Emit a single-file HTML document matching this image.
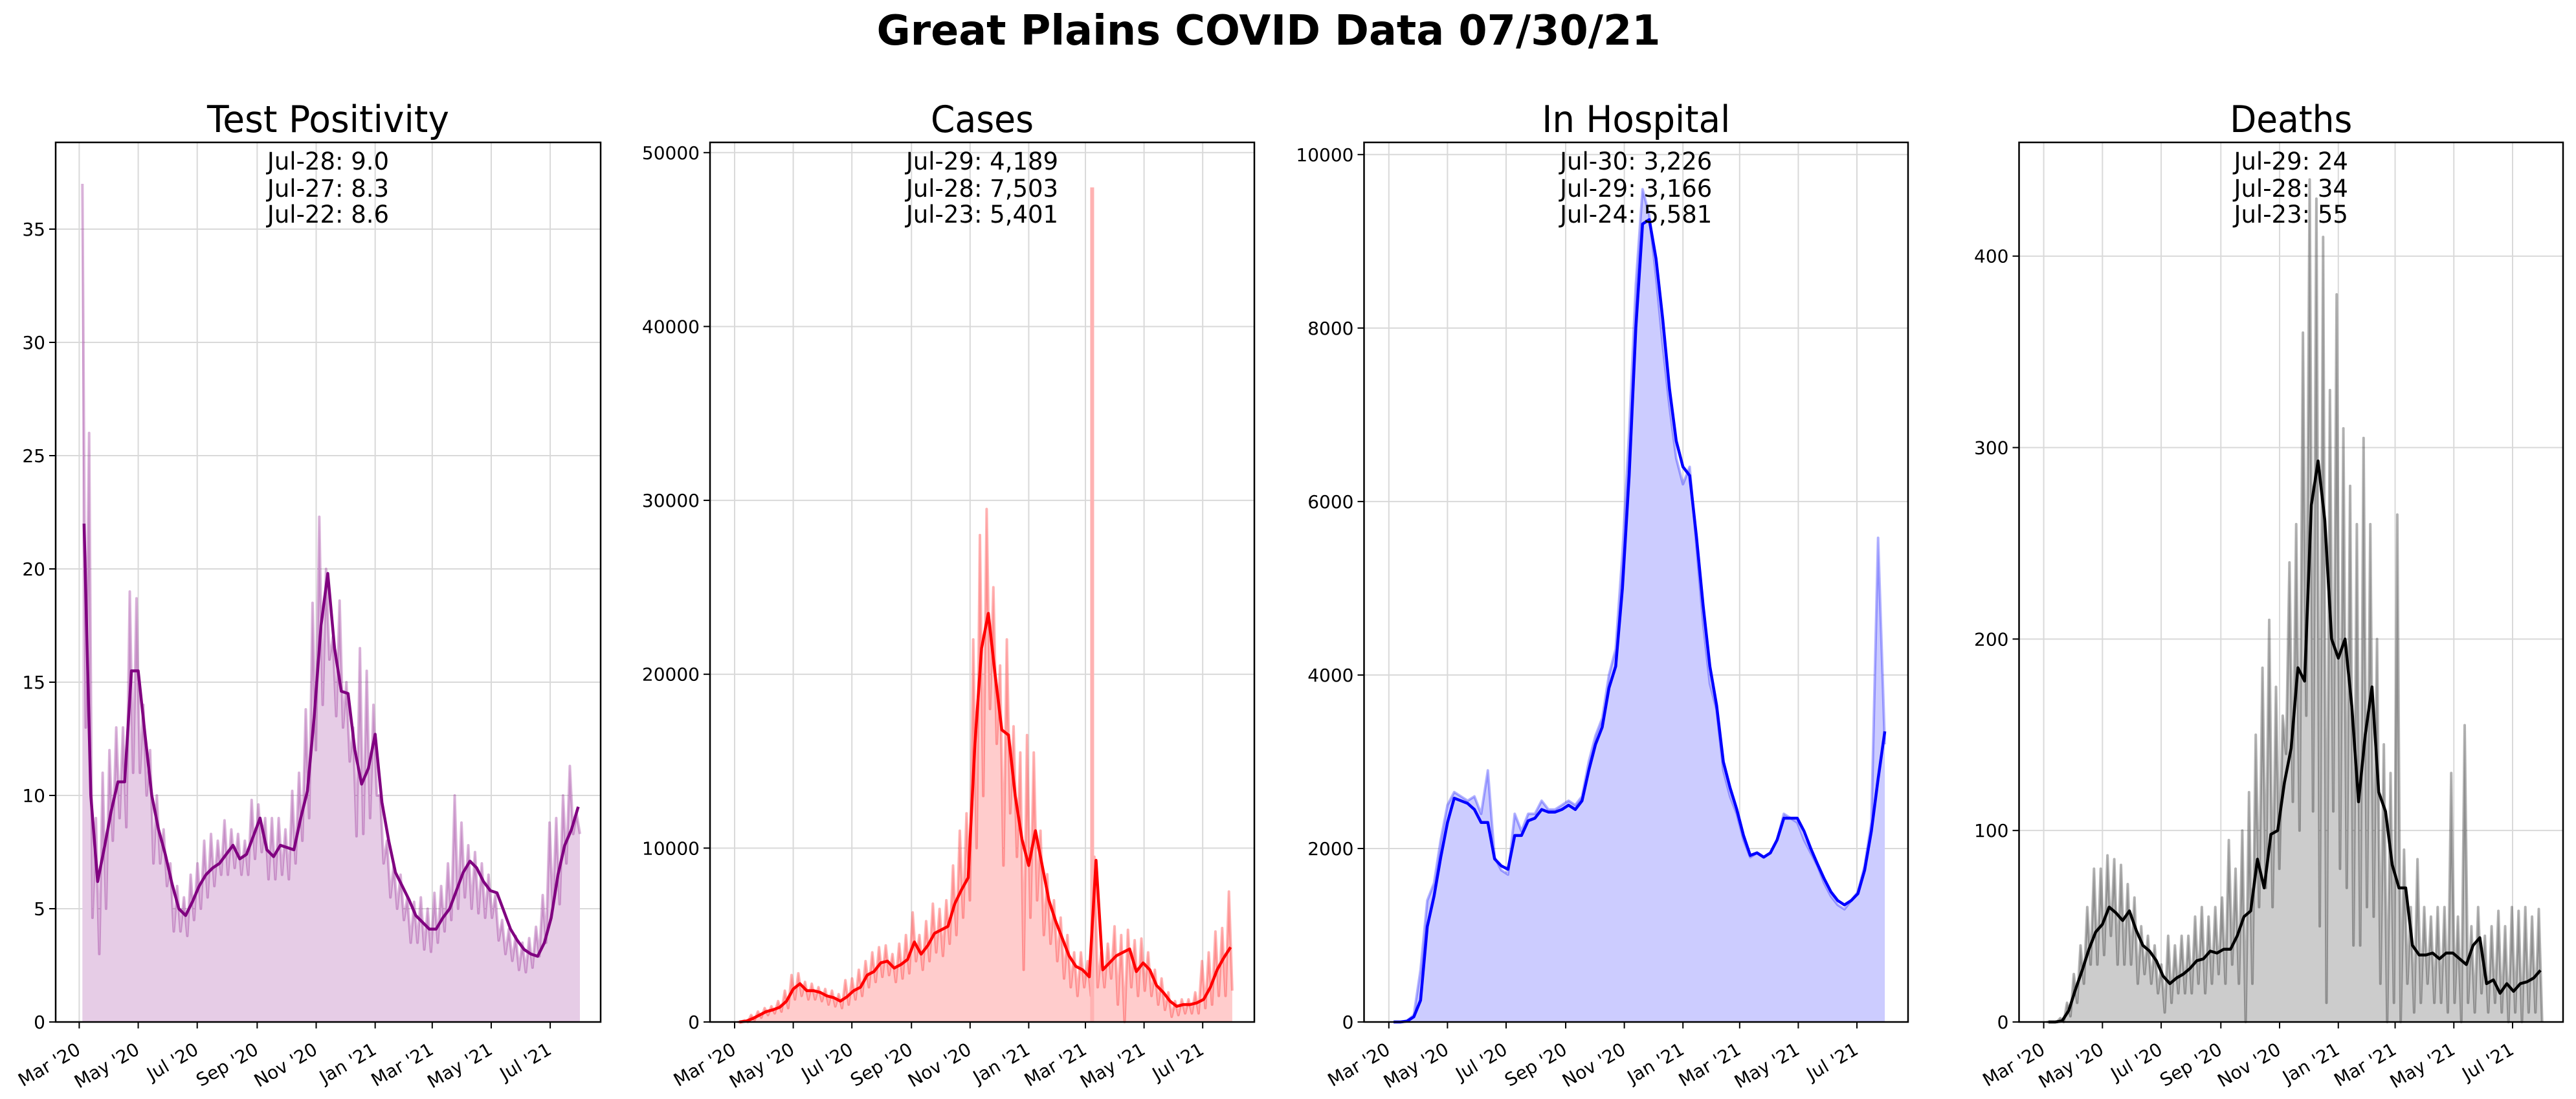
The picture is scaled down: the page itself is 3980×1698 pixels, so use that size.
<!DOCTYPE html>
<html><head><meta charset="utf-8"><title>Great Plains COVID Data 07/30/21</title>
<style>
html,body{margin:0;padding:0;background:#fff;}
svg{display:block;font-family:"DejaVu Sans","Liberation Sans",sans-serif;}
</style></head>
<body>
<svg id="chart" width="3980" height="1698" viewBox="0 0 3980 1698" xmlns="http://www.w3.org/2000/svg">
<rect width="3980" height="1698" fill="#fff"/>
<text x="1960" y="69" text-anchor="middle" font-size="64" font-weight="bold" textLength="1211" lengthAdjust="spacingAndGlyphs">Great Plains COVID Data 07/30/21</text>
</svg>
<script>
// ---- data (weekly samples, day offset from Mar 1 2020 = firstDay + i*stepDays) ----
const firstDay = 5;
const stepDays = 7;
const monthLabels = ["Mar '20","May '20","Jul '20","Sep '20","Nov '20","Jan '21","Mar '21","May '21","Jul '21"];
const monthDays = [0,61,122,184,245,306,365,426,487];

const tpSmooth = [22,10,6.2,7.7,9.3,10.6,10.6,15.5,15.5,12.7,10,8.5,7.4,6.1,5,4.7,5.3,6,6.5,6.8,7,7.4,7.8,7.2,7.4,8.2,9,7.6,7.3,7.8,7.7,7.6,9,10.2,13.5,17.5,19.8,16.5,14.6,14.5,12,10.5,11.2,12.7,9.7,8,6.6,6,5.4,4.7,4.4,4.1,4.1,4.6,5,5.8,6.6,7.1,6.8,6.2,5.8,5.7,4.9,4.1,3.6,3.2,3,2.9,3.5,4.6,6.5,7.8,8.5,9.5];
const tpHi = [37,26,9,11,12,13,13,19,18.7,14,12,10,8.5,7,6,5.5,6.5,7,8,8.3,8,8.9,8.5,8.3,8,9.8,9.6,9,9,9,8.5,10.2,11,13.8,18.5,22.3,20,17,18.6,15,13,16.5,15.5,14,10,8,7,6.5,5.5,5.3,5.5,5,5.7,6,7,10,8.8,7.8,7.5,7,6.5,5.6,4.5,4.1,3.8,3.5,3.7,4.2,5.6,8.8,9,10,11.3,9.2];
const tpLo = [13,4.6,3,5,8,9,8.6,11,11,10,7,7,6,4,4,3.8,4.5,5,5.5,6,6.5,6.5,6.8,6.5,6.5,7.2,7.5,6.3,6.3,6.5,6.3,7,8,9,12,14,16,13.5,13,11.5,8.2,8.3,9,10,7,5.5,5,4.5,3.5,3.5,3.2,3.1,3.5,4,4.5,5,5.5,5,4.8,4.6,4.6,3.6,3,2.7,2.3,2.2,2.4,2.9,3.5,5,5.2,7,8.3,8.3];
const tpTicks = [0,5,10,15,20,25,30,35];
const tpNotes = ["Jul-28: 9.0","Jul-27: 8.3","Jul-22: 8.6"];

const casesSmooth = [0,50,200,400,600,700,850,1200,1900,2200,1800,1800,1700,1500,1400,1200,1450,1800,2000,2700,2900,3400,3500,3100,3300,3600,4600,3900,4400,5100,5300,5500,6800,7600,8300,16000,21500,23500,20000,16800,16500,13000,10500,9000,11000,9000,7000,5800,4800,3800,3200,3000,2600,9300,3000,3400,3800,4000,4200,2900,3400,3000,2100,1700,1200,900,1000,1000,1100,1300,2000,3000,3700,4300];
const casesHi = [0,100,400,600,800,900,1200,1800,2700,2800,2300,2200,2000,1900,1800,1600,2400,2500,3000,3500,4000,4300,4400,3900,4500,5000,6300,5000,5800,6800,6500,7000,9000,11000,12000,22000,28000,29500,25000,20500,22000,17000,15500,16500,15500,11000,8500,7000,6000,5000,4000,4000,3500,9500,4000,4500,5500,5000,5300,4700,4800,4000,3000,2500,1700,1200,1300,1300,1700,3500,4000,5200,5400,7500];
const casesLo = [0,0,100,250,400,500,600,800,1300,1500,1300,1300,1200,1000,900,800,1000,1300,1500,2000,2300,2600,2700,2300,2500,2800,3500,3000,3500,4000,3800,4500,5000,6000,7000,10000,13000,18000,16000,9000,12000,9500,3000,6000,7000,5000,4500,3500,2500,2000,1500,2000,1500,2000,2000,2500,1000,0,2000,1500,1800,1500,1000,700,300,400,500,500,500,800,1000,1500,1500,1800];
const casesSpikeDays = [372];
const casesSpikeVals = [48000];
const casesTicks = [0,10000,20000,30000,40000,50000];
const casesNotes = ["Jul-29: 4,189","Jul-28: 7,503","Jul-23: 5,401"];

const hospSmooth = [0,0,10,60,250,1100,1450,1900,2300,2580,2550,2520,2450,2300,2300,1880,1800,1760,2150,2150,2320,2350,2450,2420,2420,2450,2500,2450,2550,2900,3200,3400,3850,4100,5000,6300,8000,9200,9250,8800,8100,7300,6700,6400,6300,5600,4800,4100,3650,3000,2700,2450,2150,1920,1950,1900,1950,2100,2350,2350,2350,2200,2000,1820,1650,1500,1400,1350,1400,1480,1750,2200,2800,3350];
const hospRaw = [0,0,15,80,600,1400,1600,2100,2500,2650,2600,2550,2600,2400,2900,1900,1750,1700,2400,2200,2400,2400,2550,2450,2450,2500,2550,2500,2600,3000,3300,3500,4000,4300,5400,6800,8500,9600,9300,8600,7800,7100,6500,6200,6400,5500,4600,3900,3600,2900,2600,2400,2100,1900,1950,1900,1950,2100,2400,2350,2300,2100,1950,1800,1600,1450,1350,1300,1400,1500,1800,2300,5581,3200];
const hospTicks = [0,2000,4000,6000,8000,10000];
const hospNotes = ["Jul-30: 3,226","Jul-29: 3,166","Jul-24: 5,581"];

const deathsSmooth = [0,0,0.5,6,17,27,38,47,51,60,57,53,58,48,40,37,32,24,20,23,25,28,32,33,37,36,38,38,45,55,58,85,70,98,100,125,143,185,178,270,293,262,200,190,200,165,115,150,175,120,110,82,70,70,40,35,35,36,33,36,36,33,30,40,44,20,22,15,20,16,20,21,23,27];
const deathsHi = [0,0,2,10,25,40,60,80,80,87,85,82,72,65,50,45,40,30,45,40,45,45,55,60,55,60,65,95,80,100,120,150,185,210,175,160,240,260,360,440,430,410,330,380,310,280,260,305,260,200,145,130,265,90,60,85,60,55,60,60,130,55,155,50,60,45,50,58,50,60,58,60,55,59];
const deathsLo = [0,0,0,3,10,20,30,30,35,45,30,30,30,20,25,20,15,5,10,15,15,15,20,15,20,25,20,30,20,0,20,60,70,60,80,140,115,100,160,110,50,10,110,80,70,40,40,60,55,20,0,10,0,20,5,10,20,10,10,5,10,0,10,5,15,5,10,5,0,5,0,5,5,0];
const deathsTicks = [0,100,200,300,400];
const deathsNotes = ["Jul-29: 24","Jul-28: 34","Jul-23: 55"];

// ---- drawing ----
const NS = "http://www.w3.org/2000/svg";
const svg = document.getElementById("chart");
function mk(tag, attrs, parent){
  const e = document.createElementNS(NS, tag);
  for (const k in attrs) e.setAttribute(k, attrs[k]);
  (parent || svg).appendChild(e);
  return e;
}
const TOP = 220, BOTTOM = 1579;
const panels = [
  {key:"test-positivity", title:"Test Positivity", tw:374, left:86, right:928, mar:122.4, jul:850.1, topVal:35, topPx:354,
   smooth:tpSmooth, hi:tpHi, lo:tpLo, ticks:tpTicks, notes:tpNotes, line:"#800080", fill:"rgb(230,204,230)", raw:"rgba(128,0,128,0.3)"},
  {key:"cases", title:"Cases", tw:159, left:1097, right:1938, mar:1135, jul:1858.2, topVal:50000, topPx:235.8,
   smooth:casesSmooth, hi:casesHi, lo:casesLo, ticks:casesTicks, notes:casesNotes, spikeDays:casesSpikeDays, spikeVals:casesSpikeVals,
   line:"#ff0000", fill:"rgb(255,204,204)", raw:"rgba(255,0,0,0.3)"},
  {key:"in-hospital", title:"In Hospital", tw:291, left:2107.5, right:2948, mar:2145.8, jul:2869, topVal:10000, topPx:238.8,
   smooth:hospSmooth, hi:hospRaw, lo:hospRaw, ticks:hospTicks, notes:hospNotes, line:"#0000ff", fill:"rgb(204,204,255)", raw:"rgba(0,0,255,0.3)"},
  {key:"deaths", title:"Deaths", tw:189, left:3119.5, right:3960, mar:3157.6, jul:3882, topVal:400, topPx:395.7,
   smooth:deathsSmooth, hi:deathsHi, lo:deathsLo, ticks:deathsTicks, notes:deathsNotes, line:"#000000", fill:"rgb(204,204,204)", raw:"rgba(0,0,0,0.3)"}
];

panels.forEach(p => {
  const g = mk("g", {});
  
  
  const xs = d => p.mar + (d - 0) * (p.jul - p.mar) / 487;
  const ys = v => BOTTOM - v * (BOTTOM - p.topPx) / p.topVal;
  const dayOf = i => firstDay + i * stepDays;

  // grid
  monthDays.forEach(d => {
    const l = mk("line", {x1:xs(d), x2:xs(d), y1:TOP, y2:BOTTOM, stroke:"#d9d9d9", "stroke-width":2}, g);
    
    
  });
  p.ticks.forEach(v => {
    const l = mk("line", {x1:p.left, x2:p.right, y1:ys(v), y2:ys(v), stroke:"#d9d9d9", "stroke-width":2}, g);
    
    
  });

  // raw zigzag points
  const n = Math.min(p.hi.length, p.lo.length);
  let pts = [];
  for (let i = 0; i < n; i++) {
    const d = dayOf(i);
    if (p.hi === p.lo) { pts.push([xs(d), ys(p.hi[i])]); }
    else { pts.push([xs(d - 1.75), ys(p.hi[i])]); pts.push([xs(d + 1.75), ys(p.lo[i])]); }
  }
  const lineStr = pts.map(q => q[0].toFixed(1) + "," + q[1].toFixed(1)).join(" ");
  const area = mk("polygon", {points: pts[0][0].toFixed(1)+","+BOTTOM+" "+lineStr+" "+pts[pts.length-1][0].toFixed(1)+","+BOTTOM, fill:p.fill}, g);
  
  
  const rawLine = mk("polyline", {points: lineStr, fill:"none", stroke:p.raw, "stroke-width":4, "stroke-linejoin":"round"}, g);
  
  
  if (p.spikeDays) {
    p.spikeDays.forEach((d, k) => {
      const s = mk("rect", {x:xs(d)-3, y:ys(p.spikeVals[k]), width:6, height:BOTTOM-ys(p.spikeVals[k]), fill:"rgb(255,178,178)"}, g);
      
      
    });
  }

  // smoothed line
  const sp = p.smooth.map((v, i) => xs(dayOf(i)).toFixed(1) + "," + ys(v).toFixed(1)).join(" ");
  const sl = mk("polyline", {points: sp, fill:"none", stroke:p.line, "stroke-width":4.5, "stroke-linejoin":"round"}, g);
  
  

  // frame
  const fr = mk("rect", {x:p.left, y:TOP, width:p.right-p.left, height:BOTTOM-TOP, fill:"none", stroke:"#000", "stroke-width":2.5}, g);
  
  

  // y ticks
  p.ticks.forEach(v => {
    const t = mk("line", {x1:p.left-10, x2:p.left, y1:ys(v), y2:ys(v), stroke:"#000", "stroke-width":2}, g);
    
    
    const tx = mk("text", {x:p.left-16, y:ys(v)+10, "text-anchor":"end", "font-size":28}, g);
    tx.textContent = String(v);
    
    
  });
  // x ticks
  monthDays.forEach((d, k) => {
    const t = mk("line", {x1:xs(d), x2:xs(d), y1:BOTTOM, y2:BOTTOM+10, stroke:"#000", "stroke-width":2}, g);
    
    
    const ax = xs(d) + 4, ay = BOTTOM + 48;
    const tx = mk("text", {x:ax, y:ay, "text-anchor":"end", "font-size":28, transform:"rotate(-30 "+ax+" "+ay+")"}, g);
    tx.textContent = monthLabels[k];
    
    
  });

  // title
  const cx = (p.left + p.right) / 2;
  const tt = mk("text", {x:cx, y:204, "text-anchor":"middle", "font-size":57, textLength:p.tw, lengthAdjust:"spacingAndGlyphs"}, g);
  tt.textContent = p.title;
  
  

  // annotations
  [262, 304, 344].forEach((y, k) => {
    const a = mk("text", {x:cx, y:y, "text-anchor":"middle", "font-size":37}, g);
    a.textContent = p.notes[k];
    
    
  });
});
</script>
</body></html>
